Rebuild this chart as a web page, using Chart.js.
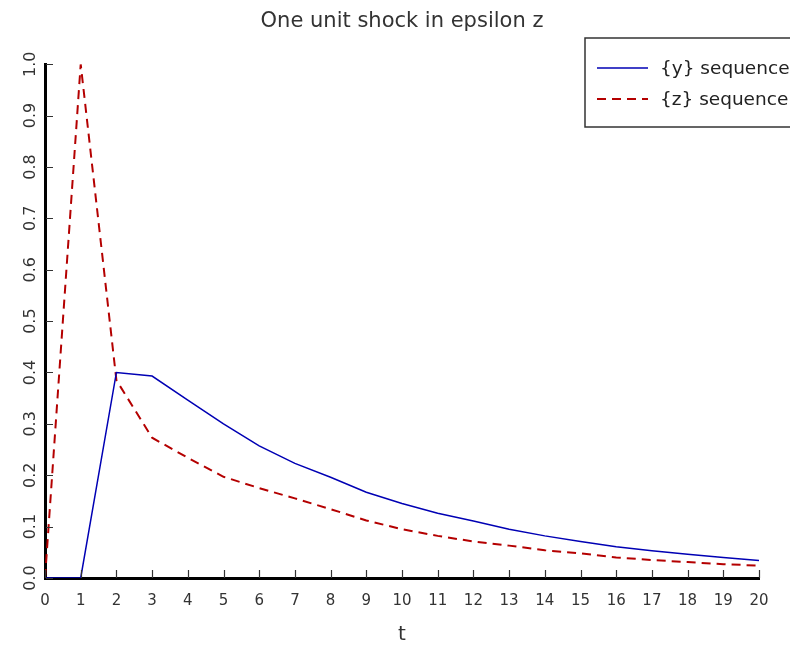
<!DOCTYPE html>
<html>
<head>
<meta charset="utf-8">
<script src="https://cdn.jsdelivr.net/npm/chart.js@4/dist/chart.umd.min.js"></script>
<style>
  html, body { margin: 0; padding: 0; background: #fff; overflow: hidden; }
  #wrap { width: 790px; height: 647px; }
</style>
</head>
<body>
<div id="wrap"><canvas id="myChart" width="790" height="647"></canvas></div>
<script>
// impulse response data
const tValues = [0, 1, 2, 3, 4, 5, 6, 7, 8, 9, 10, 11, 12, 13, 14, 15, 16, 17, 18, 19, 20];
const ySequence = [0, 0, 0.400, 0.393, 0.346, 0.300, 0.257, 0.223, 0.196, 0.167, 0.145,
  0.126, 0.111, 0.095, 0.082, 0.071, 0.061, 0.053, 0.046, 0.040, 0.034];
const zSequence = [0, 1.0, 0.385, 0.273, 0.234, 0.197, 0.175, 0.155, 0.134, 0.112, 0.095,
  0.082, 0.071, 0.063, 0.054, 0.048, 0.040, 0.035, 0.031, 0.027, 0.024];
const seriesLabels = ["{y} sequence", "{z} sequence"];

const FONT = "'DejaVu Sans', sans-serif";

function toPoints(values) {
  return tValues.map((t, i) => ({ x: t, y: values[i] }));
}

// tick marks drawn inside the plot, like the original
const innerTicks = {
  id: "innerTicks",
  afterDraw(chart) {
    const ctx = chart.ctx;
    const xs = chart.scales.x;
    const ys = chart.scales.y;
    const area = chart.chartArea;
    ctx.save();
    ctx.strokeStyle = "#333";
    ctx.lineWidth = 1.2;
    ctx.beginPath();
    xs.ticks.forEach((tk) => {
      const px = Math.round(xs.getPixelForValue(tk.value)) + 0.5;
      ctx.moveTo(px, area.bottom);
      ctx.lineTo(px, area.bottom - 8);
    });
    ys.ticks.forEach((tk) => {
      const py = Math.round(ys.getPixelForValue(tk.value)) + 0.5;
      ctx.moveTo(area.left + 1, py);
      ctx.lineTo(area.left + 8, py);
    });
    ctx.stroke();
    ctx.restore();
  },
};

// boxed legend in the top right corner, runs off the canvas edge
const boxLegend = {
  id: "boxLegend",
  afterDraw(chart) {
    const ctx = chart.ctx;
    const boxX = 585, boxY = 38, boxH = 89;
    ctx.save();
    ctx.strokeStyle = "#333";
    ctx.lineWidth = 1.5;
    ctx.strokeRect(boxX, boxY, 400, boxH);
    chart.data.datasets.forEach((ds, i) => {
      const ly = 68 + i * 31;
      ctx.beginPath();
      ctx.strokeStyle = ds.borderColor;
      ctx.lineWidth = ds.borderWidth;
      ctx.setLineDash(ds.borderDash || []);
      ctx.moveTo(597, ly);
      ctx.lineTo(648, ly);
      ctx.stroke();
      ctx.setLineDash([]);
      ctx.fillStyle = "#222";
      ctx.font = "18.5px " + FONT;
      ctx.textBaseline = "middle";
      ctx.textAlign = "left";
      ctx.fillText(ds.label, 660, ly + 1);
    });
    ctx.restore();
  },
};

const ctx = document.getElementById("myChart");

const myChart = new Chart(ctx, {
  type: "line",
  data: {
    datasets: [
      {
        label: seriesLabels[0],
        data: toPoints(ySequence),
        borderColor: "#0000b4",
        borderWidth: 1.5,
        pointRadius: 0,
        tension: 0,
        fill: false,
      },
      {
        label: seriesLabels[1],
        data: toPoints(zSequence),
        borderColor: "#b40000",
        borderWidth: 2,
        borderDash: [9, 6],
        pointRadius: 0,
        tension: 0,
        fill: false,
      },
    ],
  },
  options: {
    responsive: false,
    animation: false,
    devicePixelRatio: 1,
    layout: { padding: { top: 0, right: 31, left: 0, bottom: 0 } },
    plugins: {
      legend: { display: false },
      tooltip: { enabled: false },
      title: {
        display: true,
        text: "One unit shock in epsilon z",
        fullSize: false,
        color: "#333",
        font: { family: FONT, size: 21, weight: "normal" },
        padding: { top: 9, bottom: 30 },
      },
    },
    scales: {
      x: {
        type: "linear",
        min: 0,
        max: 20,
        afterFit: (scale) => {
          scale.height = 69;
        },
        ticks: {
          stepSize: 1,
          color: "#333",
          padding: 14,
          maxRotation: 0,
          autoSkip: false,
          font: { family: FONT, size: 15 },
        },
        grid: { display: false, drawTicks: false },
        border: { display: true, color: "#000", width: 3 },
        title: {
          display: true,
          text: "t",
          color: "#333",
          font: { family: FONT, size: 20 },
          padding: { top: 0, bottom: 0 },
        },
      },
      y: {
        min: 0,
        max: 1,
        afterFit: (scale) => {
          scale.width = 45;
        },
        ticks: {
          stepSize: 0.1,
          color: "#333",
          padding: 1,
          minRotation: 90,
          maxRotation: 90,
          crossAlign: "center",
          font: { family: FONT, size: 16 },
          callback: (v) => v.toFixed(1),
        },
        grid: { display: false, drawTicks: false },
        border: { display: true, color: "#000", width: 3 },
      },
    },
  },
  plugins: [innerTicks, boxLegend],
});
</script>
</body>
</html>
